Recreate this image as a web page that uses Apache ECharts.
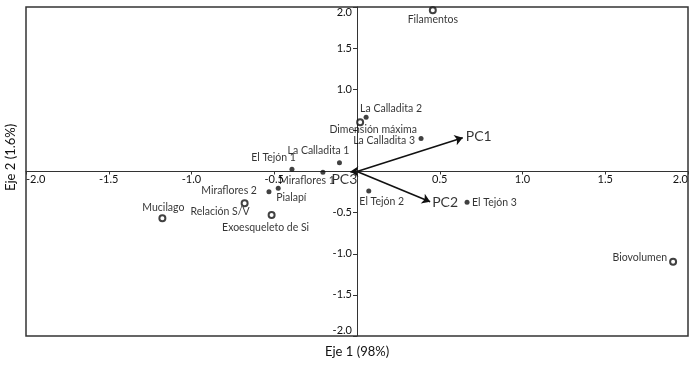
<!DOCTYPE html>
<html>
<head>
<meta charset="utf-8">
<script src="https://cdn.jsdelivr.net/npm/echarts@6/dist/echarts.min.js"></script>
<style>
  html, body { margin: 0; padding: 0; background: #fff; }
  #chart { width: 697px; height: 372px; }
</style>
</head>
<body>
<div id="chart"></div>
<script>
// Sites (filled dots)
const siteNames = ['La Calladita 2', 'La Calladita 3', 'La Calladita 1', 'El Tejón 1', 'Miraflores 1',
    'Miraflores 2', 'Pialapí', 'El Tejón 2', 'El Tejón 3'];
const siteX = [0.055, 0.387, -0.106, -0.393, -0.206, -0.532, -0.476, 0.071, 0.665];
const siteY = [0.66, 0.40, 0.107, 0.027, -0.01, -0.245, -0.205, -0.237, -0.375];

// Variables (open circles)
const varNames = ['Filamentos', 'Dimensión máxima', 'Relación S/V', 'Exoesqueleto de Si', 'Mucilago', 'Biovolumen'];
const varX = [0.458, 0.019, -0.679, -0.516, -1.176, 1.91];
const varY = [1.96, 0.598, -0.387, -0.529, -0.569, -1.097];

// Principal component vectors
const pcNames = ['PC1', 'PC2', 'PC3'];
const pcX = [0.639, 0.442, -0.04];
const pcY = [0.411, -0.367, 0];

// Axis ticks
const axisMin = -2;
const axisMax = 2;
const tickStep = 0.5;

const FONT = 'Lato';
const W = 697, H = 372;
const G = { left: 26, right: 9, top: 7, bottom: 36 };

// label placement for each name: [align, dx, dy]
const labelPlace = {
    'La Calladita 2': ['left', -6, -9],
    'La Calladita 3': ['right', -6, 2],
    'La Calladita 1': ['right', 10, -12],
    'El Tejón 1': ['right', 4, -12],
    'Miraflores 1': ['center', -16, 8],
    'Miraflores 2': ['right', -12, -1],
    'Pialapí': ['left', -2, 9],
    'El Tejón 2': ['center', 13, 11],
    'El Tejón 3': ['left', 5, 0],
    'Filamentos': ['center', 0, 9],
    'Dimensión máxima': ['center', 13, 7],
    'Relación S/V': ['right', 5, 8],
    'Exoesqueleto de Si': ['center', -6, 13],
    'Mucilago': ['center', 1, -11],
    'Biovolumen': ['right', -6, -4],
    'PC1': ['left', 3, -1],
    'PC2': ['left', 2, 1],
    'PC3': ['center', -6, 8]
};

function pointData(names, xs, ys, fontSize) {
    return names.map((name, i) => {
        const p = labelPlace[name];
        return {
            name: name,
            value: [xs[i], ys[i]],
            label: {
                show: true,
                formatter: name,
                position: 'inside',
                align: p[0],
                verticalAlign: 'middle',
                offset: [p[1], p[2]],
                fontSize: fontSize,
                fontFamily: FONT,
                color: '#000'
            }
        };
    });
}

const chart = echarts.init(document.getElementById('chart'));

const tickLabel = function (v) {
    if (Math.abs(v) < 1e-9) return '';
    return v.toFixed(1);
};

// move both axes to the centre of the box (zero of the other axis)
const plotW = W - G.left - G.right;
const plotH = H - G.top - G.bottom;

const option = {
    animation: false,
    grid: Object.assign({
        show: true, borderColor: '#333', borderWidth: 1.5, backgroundColor: '#fff'
    }, G),
    xAxis: {
        type: 'value',
        position: 'bottom',
        offset: -plotH / 2,
        min: axisMin, max: axisMax, interval: tickStep,
        splitLine: { show: false },
        axisLine: { onZero: false, lineStyle: { color: '#333', width: 1 } },
        axisTick: { length: 3, lineStyle: { color: '#333' } },
        axisLabel: {
            formatter: tickLabel, margin: 2, fontSize: 11, fontFamily: FONT, color: '#111',
            alignMinLabel: 'left', alignMaxLabel: 'right'
        }
    },
    yAxis: {
        type: 'value',
        position: 'left',
        offset: -plotW / 2,
        min: axisMin, max: axisMax, interval: tickStep,
        splitLine: { show: false },
        axisLine: { onZero: false, lineStyle: { color: '#333', width: 1 } },
        axisTick: { length: 4, lineStyle: { color: '#333' } },
        axisLabel: {
            formatter: function (v) {
                if (Math.abs(v - 0.5) < 1e-9) return '';
                return tickLabel(v);
            },
            margin: 5, fontSize: 11, fontFamily: FONT, color: '#111',
            verticalAlignMinLabel: 'bottom', verticalAlignMaxLabel: 'top'
        }
    },
    graphic: [
        {
            type: 'text', x: 325, y: 345,
            style: { text: 'Eje 1 (98%)', fontSize: 13, fontFamily: FONT, fill: '#111' }
        },
        {
            type: 'text', x: 4, y: 191, rotation: Math.PI / 2,
            style: { text: 'Eje 2 (1.6%)', fontSize: 13, fontFamily: FONT, fill: '#111' }
        }
    ],
    series: [
        {
            type: 'lines',
            coordinateSystem: 'cartesian2d',
            symbol: ['none', 'arrow'],
            symbolSize: 8,
            lineStyle: { color: '#111', width: 1.6, opacity: 1 },
            data: pcNames.map((n, i) => ({ coords: [[0, 0], [pcX[i], pcY[i]]] })),
            z: 3
        },
        {
            type: 'scatter',
            symbolSize: 0,
            data: pointData(pcNames, pcX, pcY, 14),
            z: 4
        },
        {
            type: 'scatter',
            symbol: 'circle',
            symbolSize: 5,
            itemStyle: { color: '#111' },
            data: pointData(siteNames, siteX, siteY, 10.5),
            z: 5
        },
        {
            type: 'scatter',
            symbol: 'circle',
            symbolSize: 6,
            itemStyle: { color: '#fff', borderColor: '#111', borderWidth: 2 },
            data: pointData(varNames, varX, varY, 10.5),
            z: 5
        }
    ]
};

chart.setOption(option);
window.addEventListener('resize', () => chart.resize());
</script>
</body>
</html>
